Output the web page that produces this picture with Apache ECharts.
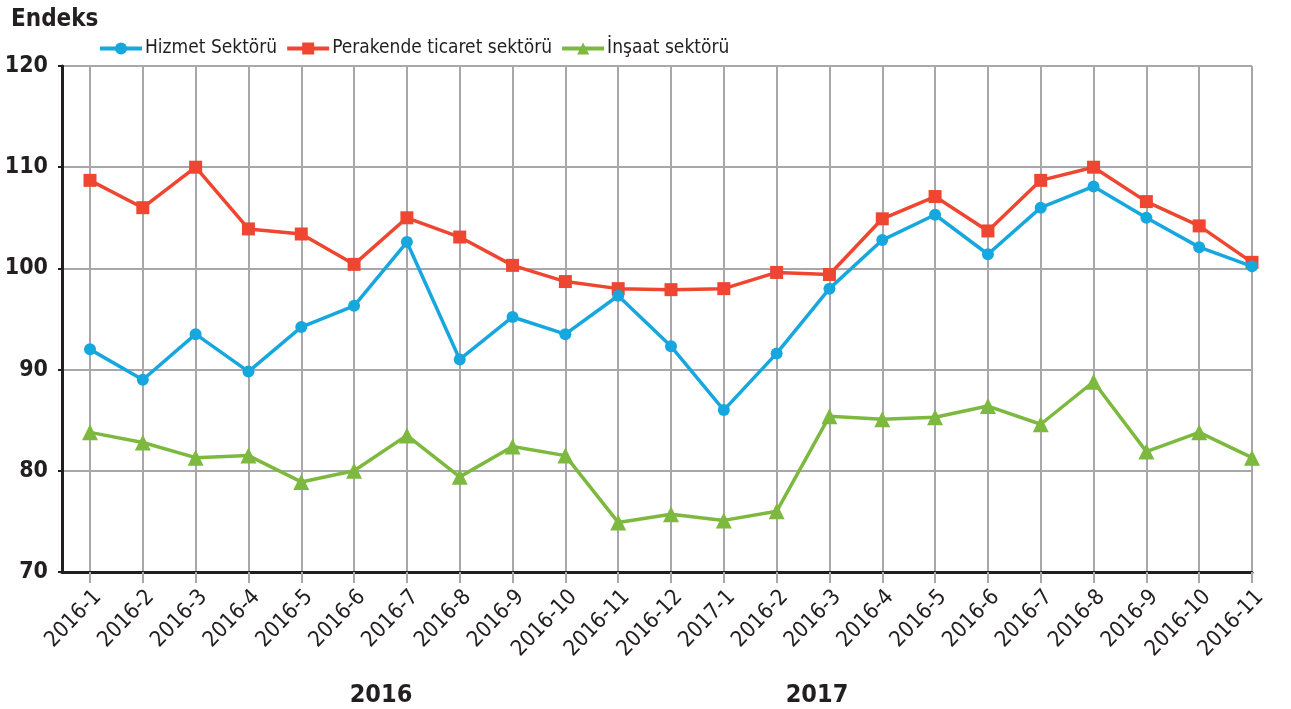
<!DOCTYPE html>
<html>
<head>
<meta charset="utf-8">
<script src="https://cdn.jsdelivr.net/npm/echarts@6/dist/echarts.min.js"></script>
<style>
html,body{margin:0;padding:0;background:#fff;}
#chart{width:1291px;height:709px;}
</style>
</head>
<body>
<div id="chart"></div>
<script>
const categories = ['2016-1','2016-2','2016-3','2016-4','2016-5','2016-6','2016-7','2016-8','2016-9','2016-10','2016-11','2016-12','2017-1','2016-2','2016-3','2016-4','2016-5','2016-6','2016-7','2016-8','2016-9','2016-10','2016-11'];
const hizmet = [92.0, 89.0, 93.5, 89.8, 94.2, 96.3, 102.6, 91.0, 95.2, 93.5, 97.3, 92.3, 86.0, 91.6, 98.0, 102.8, 105.3, 101.4, 106.0, 108.1, 105.0, 102.1, 100.2];
const perakende = [108.7, 106.0, 110.0, 103.9, 103.4, 100.4, 105.0, 103.1, 100.3, 98.7, 98.0, 97.9, 98.0, 99.6, 99.4, 104.9, 107.1, 103.7, 108.7, 110.0, 106.6, 104.2, 100.6];
const insaat = [83.8, 82.8, 81.3, 81.5, 78.9, 80.0, 83.5, 79.4, 82.4, 81.5, 74.9, 75.7, 75.1, 76.0, 85.4, 85.1, 85.3, 86.4, 84.6, 88.8, 81.9, 83.8, 81.3];
const seriesNames = ['Hizmet Sektörü', 'Perakende ticaret sektörü', 'İnşaat sektörü'];
const yTicks = {min: 70, max: 120, interval: 10};
const yearLabels = ['2016', '2017'];

const FONT = '"Liberation Sans Narrow", "DejaVu Sans Condensed", "Liberation Sans", sans-serif';
const gridColor = '#A8A8AC';
const colors = ['#17A7DF', '#EE4631', '#7DB83F'];

const chart = echarts.init(document.getElementById('chart'));
chart.setOption({
  animation: false,
  textStyle: {fontFamily: FONT},
  title: [
    {text: 'Endeks', left: 6, top: 3, textStyle: {fontFamily: FONT, fontWeight: 'bold', fontSize: 24, color: '#231F20'}},
    {text: yearLabels[0], left: 376, top: 678, textAlign: 'center', textStyle: {fontFamily: FONT, fontWeight: 'bold', fontSize: 25, color: '#231F20'}},
    {text: yearLabels[1], left: 812, top: 678, textAlign: 'center', textStyle: {fontFamily: FONT, fontWeight: 'bold', fontSize: 25, color: '#231F20'}}
  ],
  legend: {
    left: 93, top: 34,
    itemWidth: 42, itemHeight: 15, itemGap: 8,
    lineStyle: {width: 4},
    textStyle: {fontFamily: FONT, fontSize: 19, color: '#231F20', padding: [0, 0, 0, -2]},
    data: seriesNames
  },
  grid: [
    {left: 62, right: 39, top: 66, bottom: 137},
    {left: 90, right: 39, top: 66, bottom: 137}
  ],
  xAxis: [
    {gridIndex: 0, type: 'value', min: 0, max: 1, axisLabel: {show: false}, axisTick: {show: false}, splitLine: {show: false},
     axisLine: {show: true, onZero: false, lineStyle: {color: '#231F20', width: 3}}},
    {gridIndex: 1, type: 'category', data: categories, boundaryGap: false,
     axisLine: {show: false},
     axisTick: {show: true, alignWithLabel: true, length: 11, lineStyle: {color: gridColor, width: 2}},
     splitLine: {show: true, lineStyle: {color: gridColor, width: 2}},
     axisLabel: {interval: 0, rotate: 46, fontSize: 22, color: '#231F20', margin: 14, verticalAlign: 'top', fontFamily: FONT}}
  ],
  yAxis: [
    {gridIndex: 0, type: 'value', min: yTicks.min, max: yTicks.max, interval: yTicks.interval,
     axisLine: {show: true, lineStyle: {color: '#231F20', width: 3}},
     axisTick: {show: true, length: 4, lineStyle: {color: '#231F20', width: 2}},
     splitLine: {show: true, lineStyle: {color: gridColor, width: 2}},
     axisLabel: {fontSize: 23, fontWeight: 'bold', color: '#231F20', margin: 14, fontFamily: FONT}},
    {gridIndex: 1, type: 'value', min: yTicks.min, max: yTicks.max, interval: yTicks.interval, show: false}
  ],
  series: [
    {name: seriesNames[0], type: 'line', xAxisIndex: 1, yAxisIndex: 1, data: hizmet, color: colors[0],
     symbol: 'circle', symbolSize: 12, lineStyle: {width: 3.5, color: colors[0]}, itemStyle: {color: colors[0]}, z: 4},
    {name: seriesNames[1], type: 'line', xAxisIndex: 1, yAxisIndex: 1, data: perakende, color: colors[1],
     symbol: 'rect', symbolSize: 13, lineStyle: {width: 3.5, color: colors[1]}, itemStyle: {color: colors[1]}, z: 3},
    {name: seriesNames[2], type: 'line', xAxisIndex: 1, yAxisIndex: 1, data: insaat, color: colors[2],
     symbol: 'triangle', symbolSize: 16, lineStyle: {width: 3.5, color: colors[2]}, itemStyle: {color: colors[2]}, z: 3}
  ]
});
</script>
</body>
</html>
